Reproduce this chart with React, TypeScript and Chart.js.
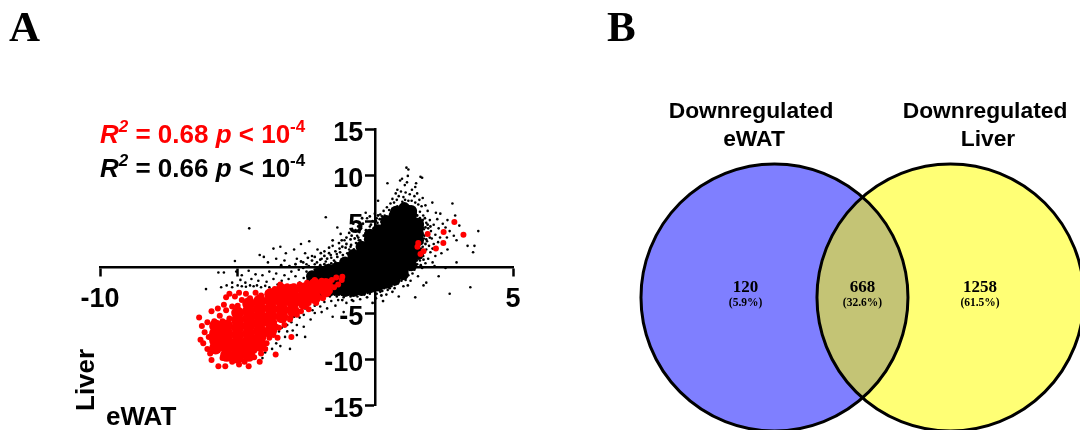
import React, { useEffect, useRef } from "react";
import { Chart, registerables } from "chart.js";

Chart.register(...registerables);

const SANS = '"Liberation Sans", Arial, sans-serif';
const SERIF = '"Liberation Serif", "Times New Roman", serif';

// --- Panel A: estimated log2 fold changes, eWAT (x) against Liver (y)
const xTickLabels = [-10, 5];
const yTickLabels = [15, 10, 5, -5, -10, -15];

const blackDenseCore = [
  [-2.3,-2.2],[-2.3,-1.6],[-2.3,-1.0],[-2.0,-2.5],[-2.0,-1.9],[-2.0,-1.2],[-2.0,-0.5],
  [-1.7,-2.6],[-1.7,-2.0],[-1.7,-1.4],[-1.7,-0.9],[-1.7,-0.3],[-1.4,-2.5],[-1.4,-1.8],[-1.4,-1.2],[-1.4,-0.6],[-1.4,-0.1],
  [-1.1,-2.6],[-1.1,-1.9],[-1.1,-1.2],[-1.1,-0.6],[-1.1,0.0],[-1.1,0.5],[-0.8,-2.6],[-0.8,-1.9],[-0.8,-1.2],[-0.8,-0.5],[-0.8,0.1],[-0.8,0.7],[-0.8,1.3],
  [-0.5,-2.5],[-0.5,-1.8],[-0.5,-1.1],[-0.5,-0.4],[-0.5,0.3],[-0.5,0.9],[-0.5,1.5],[-0.5,2.2],
  [-0.2,-2.2],[-0.2,-1.6],[-0.2,-1.0],[-0.2,-0.3],[-0.2,0.4],[-0.2,1.1],[-0.2,1.8],[-0.2,2.4],[-0.2,3.0],[-0.2,3.5],
  [0.1,-2.0],[0.1,-1.5],[0.1,-0.8],[0.1,-0.1],[0.1,0.6],[0.1,1.3],[0.1,2.0],[0.1,2.7],[0.1,3.4],[0.1,4.0],
  [0.4,-1.7],[0.4,-1.1],[0.4,-0.4],[0.4,0.3],[0.4,1.0],[0.4,1.7],[0.4,2.4],[0.4,3.1],[0.4,3.8],[0.4,4.5],[0.4,5.0],
  [0.7,-1.4],[0.7,-0.7],[0.7,0.0],[0.7,0.7],[0.7,1.4],[0.7,2.1],[0.7,2.8],[0.7,3.5],[0.7,4.2],[0.7,4.9],[0.7,5.6],[0.75,6.0],
  [1.0,-0.8],[1.0,-0.2],[1.0,0.5],[1.0,1.2],[1.0,1.9],[1.0,2.6],[1.0,3.3],[1.0,4.0],[1.0,4.7],[1.0,5.4],[1.0,6.0],[1.05,6.4],
  [1.3,0.2],[1.3,0.9],[1.3,1.6],[1.3,2.3],[1.3,3.0],[1.3,3.7],[1.3,4.4],[1.3,5.1],[1.3,5.7],[1.3,6.1],
  [1.55,1.4],[1.55,2.9],[1.55,3.6],[1.55,4.3],[1.55,4.7],
];

const blackCoreEdge = [
  [-1.75,0.9],[-1.62,1.3],[-1.5,0.7],[-1.38,1.1],[-1.28,1.6],[-1.18,1.3],[-1.08,2.1],[-0.98,1.4],[-0.88,2.4],[-0.78,1.9],
  [-0.7,2.6],[-0.62,3.2],[-0.55,2.9],[-0.42,3.4],[-0.34,4.0],[-0.25,3.9],[-0.16,4.6],[-0.06,4.2],[0.02,5.0],[0.1,5.6],
  [0.16,5.2],[0.24,5.5],[-0.45,4.7],[-0.58,3.8],[-0.75,3.1],[-0.9,3.0],[-1.05,2.5],[-1.2,2.2],[-1.45,1.7],[-1.68,1.5],
  [-1.85,1.2],[-2.0,0.8],[-2.12,0.5],[-2.3,0.7],[-2.42,0.1],[-2.62,-0.1],[-2.7,0.6],[-2.2,-0.3],[-2.0,0.2],[-1.85,0.3],
  [-1.6,0.4],[-1.35,0.4],[-1.1,0.8],[1.72,4.6],[1.82,4.3],[1.68,3.6],[1.78,3.4],[1.9,3.7],[1.98,3.2],[1.7,2.6],
  [1.82,2.5],[1.66,2.0],[1.58,1.0],[1.5,0.7],[1.46,0.95],[1.72,5.1],[1.8,5.3],[1.62,5.3],[1.52,5.6],[1.45,5.9],
  [1.9,4.6],[2.0,4.4],[1.85,3.0],[2.08,2.0],[1.75,0.8],[1.65,0.2],[1.38,0.0],[1.25,-0.3],[1.15,-0.5],[1.05,-1.0],
  [0.9,-1.0],[0.85,-1.3],[0.72,-1.8],[0.6,-1.9],[0.52,-2.3],[0.38,-2.1],[0.25,-2.6],[0.12,-2.4],[-0.02,-2.7],[-0.12,-2.6],
  [-0.28,-2.8],[-0.38,-2.6],[-0.5,-3.0],[-0.62,-2.9],[-0.75,-3.0],[-0.88,-3.0],[-1.0,-3.0],[-1.22,-3.0],[-1.32,-3.0],[-1.48,-3.0],
  [-1.62,-3.0],[-1.78,-3.1],[-2.0,-3.1],[-0.3,-3.3],[0.02,-3.4],[0.22,-3.1],[0.62,-2.7],[1.18,-2.0],[-0.1,-3.9],[0.28,-3.7],
  [-0.85,-3.6],[-1.2,-3.6],[-1.05,3.2],[-0.95,3.7],[-0.72,4.0],[-0.62,4.4],[-0.48,5.3],[-0.2,5.5],[-1.32,2.6],[-1.55,2.9],
  [-1.22,2.9],[-1.68,2.1],[-1.98,1.5],[-2.2,1.1],[-2.45,1.0],[-2.62,0.5],[-2.9,0.3],[-3.12,0.1],[-3.42,0.2],[-0.86,3.4],
];

const blackUpperFan = [
  [1.13,10.8],[1.2,10.6],[0.44,9.1],[1.64,9.8],[1.7,9.7],[0.97,9.6],[0.9,9.4],[1.18,9.9],[1.48,9.1],[1.45,8.7],
  [0.8,8.4],[1.07,8.9],[1.15,9.2],[0.62,7.4],[0.74,8.0],[0.85,7.7],[0.93,8.2],[1.02,7.6],[1.1,8.1],[1.25,7.9],
  [1.33,8.4],[1.42,7.7],[1.52,8.0],[1.6,7.3],[1.72,7.5],[0.55,6.9],[0.68,7.0],[0.78,7.3],[0.98,7.1],[1.08,7.3],
  [1.2,7.2],[1.32,7.2],[1.45,7.0],[1.56,6.8],[1.68,6.6],[1.82,6.7],[1.9,6.1],[0.42,6.5],[0.3,6.1],[0.5,6.2],
  [0.18,5.7],[0.05,5.3],[0.34,5.6],[-0.1,5.0],[-0.2,4.4],[-0.35,3.6],[0.1,7.2],[2.07,7.0],[2.2,5.9],[-0.6,2.9],
  [0.62,6.3],[0.22,4.9],[0.8,6.6],[1.0,6.8],[1.24,6.6],[1.4,6.4],[1.62,6.0],[1.74,5.6],[0.0,4.6],[-0.28,3.1],
  [-0.42,2.5],[-0.5,1.8],[-0.65,1.4],[-0.72,0.8],[-0.1,3.6],[0.08,4.8],[-0.02,5.8],[-0.3,5.3],[-0.52,4.2],[-0.8,4.7],
  [-0.66,3.4],[-0.9,2.2],[-1.02,1.5],[-1.12,2.9],[-1.38,4.3],[-1.26,3.6],[-0.35,5.9],[-1.8,5.4],
];

const blackRightFringe = [
  [2.8,6.9],[3.74,3.9],[3.35,2.3],[3.6,2.3],[3.55,1.6],[2.36,5.8],[2.9,5.6],[3.05,4.5],[2.62,5.1],[2.45,4.7],
  [2.25,5.2],[2.12,4.6],[1.98,5.1],[1.85,4.8],[1.76,4.1],[1.92,4.2],[2.02,3.9],[2.3,4.2],[2.55,4.3],[2.7,3.9],
  [2.85,3.4],[2.95,2.9],[2.6,3.2],[2.35,3.2],[2.18,3.5],[2.05,3.1],[1.88,2.8],[1.76,3.1],[1.95,2.3],[2.12,2.5],
  [2.28,2.7],[2.62,1.9],[2.4,1.5],[2.18,1.2],[2.0,1.6],[1.85,1.9],[1.72,2.2],[1.92,0.9],[1.74,1.2],[1.62,0.7],
  [1.82,0.4],[2.08,0.5],[1.7,-0.1],[1.52,0.3],[1.42,-0.3],[1.35,-0.7],[1.55,-1.0],[1.2,-0.9],[1.28,-1.5],[1.1,-1.4],
  [0.95,-1.5],[1.02,-2.1],[0.82,-1.8],[0.7,-2.3],[0.58,-2.1],[0.45,-2.5],[0.32,-2.3],[0.4,-3.0],[0.18,-2.7],[0.05,-2.9],
  [1.75,-2.0],[1.85,-1.7],[2.3,-1.0],[2.7,-2.9],[3.45,-2.2],[1.45,-3.3],[0.85,-3.2],[2.55,-0.1],[2.15,0.1],[2.95,0.5],
];

const blackLeftBand = [
  [-6.15,-2.4],[-5.7,-0.6],[-5.5,-0.6],[-5.1,0.65],[-4.58,4.2],[-3.7,2.0],[-3.45,2.2],[-4.2,1.3],[-2.4,2.8],[-2.7,2.5],
  [-2.95,1.9],[-2.55,1.5],[-3.25,1.5],[-3.6,0.9],[-3.9,0.5],[-4.05,1.1],[-3.3,0.7],[-2.85,0.9],[-2.3,1.2],[-2.1,1.9],
  [-1.85,1.7],[-1.55,2.3],[-1.3,2.0],[-1.6,1.0],[-1.8,0.6],[-1.95,0.9],[-2.2,0.3],[-2.5,0.3],[-1.45,0.5],[-1.15,0.9],
  [-1.25,0.2],[-1.5,-0.1],[-1.72,-0.3],[-1.95,-0.4],[-2.25,-0.7],[-2.5,-0.5],[-2.78,-0.3],[-3.05,-0.5],[-3.3,-0.9],[-3.6,-0.7],
  [-3.85,-0.5],[-4.1,-0.9],[-4.35,-0.8],[-4.6,-0.4],[-4.85,-0.9],[-5.05,-0.5],[-3.15,-1.3],[-3.4,-1.5],[-3.7,-1.3],[-3.95,-1.6],
  [-4.25,-1.5],[-4.5,-1.3],[-4.72,-1.7],[-4.9,-1.4],[-5.2,-1.7],[-5.4,-2.0],[-5.6,-2.2],[-5.2,-2.2],[-5.0,-2.0],[-4.85,-2.1],
  [-4.7,-2.15],[-4.55,-2.0],[-4.42,-2.1],[-4.3,-2.0],[-4.15,-2.2],[-4.0,-2.05],[-3.85,-2.2],[-2.6,-1.2],[-2.4,-1.5],[-2.15,-1.3],
  [-2.0,-1.1],[-1.8,-1.2],[-1.6,-0.9],[-1.35,-0.6],[-1.15,-0.2],[-0.95,0.5],[-0.82,1.1],[-1.0,-0.3],[-2.05,-0.1],[-1.7,0.2],
  [-2.35,-2.2],[-2.75,-1.7],[-2.9,-1.0],[-3.55,-1.9],[-0.95,1.9],[-1.4,1.4],[-2.05,-2.0],[-1.9,-0.9],[-0.7,-0.1],[-0.98,-0.7],
];

const blackLowerFringe = [
  [-1.9,-3.3],[-1.65,-3.2],[-1.4,-3.2],[-1.15,-3.3],[-0.9,-3.2],[-0.65,-3.2],[-0.4,-3.0],[-0.2,-2.9],[-0.55,-3.5],[-0.8,-3.7],
  [-1.05,-3.9],[-1.35,-3.6],[-1.6,-3.7],[-1.85,-3.8],[-2.15,-3.7],[-2.2,-4.2],[-2.45,-4.1],[-2.0,-4.3],[-2.28,-4.7],[-2.55,-4.5],
  [-2.7,-4.8],[-1.75,-4.5],[-1.45,-4.2],[-1.55,-5.4],[-1.15,-4.9],[-2.75,-5.5],[-2.95,-5.4],[-2.6,-5.2],[-3.05,-6.0],[-2.85,-6.3],
  [-3.0,-6.9],[-3.2,-6.3],[-2.85,-7.4],[-2.55,-7.6],[-3.2,-7.0],[-3.4,-6.6],[-3.5,-7.0],[-3.6,-8.3],[-3.75,-8.9],[-3.45,-8.6],
  [-3.1,-8.9],[-2.6,-6.5],[-3.95,-8.8],[-4.0,-9.3],[-4.1,-9.9],[-2.35,-5.7],[-2.2,-5.0],[-3.3,-5.8],[-3.28,-7.6],[-1.95,-4.9],
];

const redDenseCore = [
  [-5.8,-8.8],[-5.8,-8],[-5.8,-7.2],[-5.8,-6.4],
  [-5.4,-9.6],[-5.4,-8.8],[-5.4,-8],[-5.4,-7.2],[-5.4,-6.4],
  [-5,-9.8],[-5,-9],[-5,-8.2],[-5,-7.4],[-5,-6.6],[-5,-5.8],[-5,-5],
  [-4.6,-9.6],[-4.6,-8.8],[-4.6,-8],[-4.6,-7.2],[-4.6,-6.4],[-4.6,-5.6],[-4.6,-4.8],[-4.6,-4],
  [-4.2,-8.5],[-4.2,-7.7],[-4.2,-6.9],[-4.2,-6.1],[-4.2,-5.3],[-4.2,-4.5],[-4.2,-3.7],
  [-3.8,-6.9],[-3.8,-6.1],[-3.8,-5.3],[-3.8,-4.5],[-3.8,-3.7],[-3.8,-3],
  [-3.4,-5.4],[-3.4,-4.6],[-3.4,-3.8],[-3.4,-3],[-3.4,-2.5],
  [-3,-4.7],[-3,-3.9],[-3,-3.1],[-3,-2.5],
  [-2.6,-3.9],[-2.6,-3.1],[-2.6,-2.4],
  [-2.2,-3.3],[-2.2,-2.5],[-2.2,-1.9],
  [-1.8,-2.6],[-1.8,-1.9],
];

const redScatter = [
  [-6.4,-5.5],[-6.2,-7.1],[-6.3,-6.4],[-6.35,-7.9],[-6.25,-8.3],[-6.05,-7.6],[-6.1,-6.0],[-5.95,-4.8],[-6.1,-8.9],[-6.0,-9.4],
  [-5.95,-10.1],[-5.7,-10.8],[-5.45,-10.8],[-5.55,-9.9],[-5.2,-10.3],[-4.95,-10.6],[-4.6,-10.8],[-4.75,-10.3],[-4.2,-10.3],[-4.4,-9.8],
  [-5.85,-5.9],[-5.65,-5.3],[-5.55,-5.9],[-5.72,-4.5],[-5.5,-4.1],[-5.42,-4.7],[-5.3,-5.6],[-5.2,-4.3],[-5.3,-2.9],[-5.1,-3.2],
  [-5.42,-3.3],[-5.0,-4.2],[-4.85,-3.6],[-4.7,-2.9],[-4.55,-3.4],[-4.35,-2.8],[-4.15,-3.1],[-4.95,-2.8],[-4.15,-9.4],[-4.0,-8.9],
  [-3.95,-8.3],[-3.85,-7.7],[-3.7,-7.4],[-3.5,-6.6],[-3.55,-7.7],[-3.62,-9.5],[-3.05,-7.6],[-3.3,-6.3],[-3.1,-5.7],[-3.08,-5.5],
  [-2.85,-5.2],[-2.7,-4.8],[-2.42,-3.9],[-2.42,-4.6],[-2.15,-3.9],[-1.9,-3.4],[-1.65,-2.6],[-1.5,-2.2],[-1.35,-1.9],[-1.22,-1.4],
  [-1.2,-1.05],[-1.42,-1.15],[-1.58,-1.4],[-1.95,-1.5],[-2.2,-1.4],[-2.48,-1.7],[-2.75,-1.9],[-2.95,-2.1],[-3.2,-2.1],[-3.45,-1.9],
  [-3.65,-2.4],[-3.9,-2.8],[-1.65,-1.9],[-2.0,-2.3],[-2.4,-2.9],[-2.82,-3.5],[-3.2,-3.4],[-3.6,-3.3],[-5.6,-6.7],[-5.55,-7.7],
  [-5.6,-8.4],[-5.15,-9.4],[-4.85,-9.4],[-4.4,-9.1],[-4.4,-8.4],[-4.8,-8.6],[-5.2,-8.6],[-4.0,-7.3],[-3.6,-6.5],[-4.02,-5.7],
  [1.56,2.6],[1.53,2.2],[1.75,1.7],[1.64,1.4],[1.9,3.6],[2.47,2.6],[2.2,2.0],[2.48,3.8],[2.87,4.9],[3.2,3.5],
];

// --- Panel B: Venn regions
const vennLeftCircle = [{ x: -0.5, y: 0 }];
const vennRightCircle = [{ x: 0.5, y: 0 }];
const vennRegionX = [-0.664, 0, 0.668];
const vennCounts = ["120", "668", "1258"];
const vennPercents = ["(5.9%)", "(32.6%)", "(61.5%)"];
const vennTitleLeft = ["Downregulated", "eWAT"];
const vennTitleRight = ["Downregulated", "Liver"];

const statRed = [
  { t: "R", i: true }, { t: "2", i: true, sup: true }, { t: " = 0.68 " }, { t: "p", i: true }, { t: " < 10" }, { t: "-4", sup: true },
];
const statBlack = [
  { t: "R", i: true }, { t: "2", i: true, sup: true }, { t: " = 0.66 " }, { t: "p", i: true }, { t: " < 10" }, { t: "-4", sup: true },
];

const toPoints = (rows: number[][]) => rows.map(([x, y]) => ({ x, y }));

function drawRuns(ctx: CanvasRenderingContext2D, runs: any[], x0: number, y: number, color: string) {
  let x = x0;
  ctx.fillStyle = color;
  ctx.textBaseline = "alphabetic";
  ctx.textAlign = "left";
  for (const r of runs) {
    ctx.font = `${r.i ? "italic " : ""}bold ${r.sup ? 17 : 26}px ${SANS}`;
    ctx.fillText(r.t, x, r.sup ? y - 11 : y);
    x += ctx.measureText(r.t).width;
  }
}

const yTickText = {
  id: "yTickText",
  beforeDatasetsDraw(chart: any) {
    const ctx = chart.ctx;
    const xs = chart.scales.x;
    const ys = chart.scales.y;
    ctx.save();
    ctx.fillStyle = "#000";
    ctx.textAlign = "right";
    ctx.textBaseline = "alphabetic";
    ctx.font = `bold 27px ${SANS}`;
    for (const tick of ys.ticks) {
      if (yTickLabels.includes(tick.value)) {
        ctx.fillText(String(tick.value), xs.getPixelForValue(0) - 12, ys.getPixelForValue(tick.value) + 11.5);
      }
    }
    ctx.restore();
  },
};

const scatterText = {
  id: "scatterText",
  afterDraw(chart: any) {
    const ctx = chart.ctx;
    ctx.save();
    ctx.fillStyle = "#000";
    ctx.textAlign = "left";
    ctx.textBaseline = "alphabetic";
    ctx.font = `bold 43px ${SERIF}`;
    ctx.fillText("A", 9, 41);
    drawRuns(ctx, statRed, 100, 143, "#ff0000");
    drawRuns(ctx, statBlack, 100, 177, "#000000");
    ctx.fillStyle = "#000";
    ctx.font = `bold 26px ${SANS}`;
    ctx.fillText("eWAT", 106, 425);
    ctx.translate(94, 411);
    ctx.rotate(-Math.PI / 2);
    ctx.fillText("Liver", 0, 0);
    ctx.restore();
  },
};

const vennText = {
  id: "vennText",
  afterDraw(chart: any) {
    const ctx = chart.ctx;
    const xs = chart.scales.x;
    const ys = chart.scales.y;
    ctx.save();
    ctx.fillStyle = "#000";
    ctx.textAlign = "left";
    ctx.textBaseline = "alphabetic";
    ctx.font = `bold 43px ${SERIF}`;
    ctx.fillText("B", 27, 41);
    ctx.textAlign = "center";
    ctx.font = `bold 22.8px ${SANS}`;
    vennTitleLeft.forEach((t, i) => ctx.fillText(t, 171 + (i ? 3 : 0), 118 + i * 28));
    vennTitleRight.forEach((t, i) => ctx.fillText(t, 405 + (i ? 3 : 0), 118 + i * 28));
    ctx.textBaseline = "middle";
    vennRegionX.forEach((v, i) => {
      const px = xs.getPixelForValue(v);
      ctx.font = `bold 17px ${SERIF}`;
      ctx.fillText(vennCounts[i], px, ys.getPixelForValue(0.054));
      ctx.font = `bold 11.5px ${SERIF}`;
      ctx.fillText(vennPercents[i], px, ys.getPixelForValue(-0.032));
    });
    ctx.restore();
  },
};

export default function App() {
  const leftRef = useRef<HTMLCanvasElement>(null);
  const rightRef = useRef<HTMLCanvasElement>(null);

  useEffect(() => {
    document.body.style.margin = "0";
    const left = new Chart(leftRef.current!, {
      type: "scatter",
      data: {
        datasets: [
          { label: "red scatter", data: toPoints(redScatter), backgroundColor: "#ff0000", borderWidth: 0, pointRadius: 3 },
          { label: "red core", data: toPoints(redDenseCore), backgroundColor: "#ff0000", borderWidth: 0, pointRadius: 6.5 },
          { label: "black upper", data: toPoints(blackUpperFan), backgroundColor: "#000", borderWidth: 0, pointRadius: 1.3 },
          { label: "black right", data: toPoints(blackRightFringe), backgroundColor: "#000", borderWidth: 0, pointRadius: 1.3 },
          { label: "black left", data: toPoints(blackLeftBand), backgroundColor: "#000", borderWidth: 0, pointRadius: 1.3 },
          { label: "black lower", data: toPoints(blackLowerFringe), backgroundColor: "#000", borderWidth: 0, pointRadius: 1.3 },
          { label: "black edge", data: toPoints(blackCoreEdge), backgroundColor: "#000", borderWidth: 0, pointRadius: 1.4 },
          { label: "black core", data: toPoints(blackDenseCore), backgroundColor: "#000", borderWidth: 0, pointRadius: 6 },
        ],
      },
      options: {
        responsive: false,
        animation: false,
        events: [],
        layout: { autoPadding: false, padding: { left: 100, right: 67, top: 129, bottom: 25 } },
        plugins: { legend: { display: false }, tooltip: { enabled: false } },
        scales: {
          x: {
            type: "linear",
            min: -10,
            max: 5,
            position: { y: 0 } as any,
            border: { display: true, color: "#000", width: 2.5 },
            grid: { drawOnChartArea: false, drawTicks: true, tickLength: 8, tickColor: "#000", tickWidth: 2.5 },
            ticks: {
              stepSize: 5,
              color: "#000",
              font: { family: SANS, size: 27, weight: "bold" as const },
              padding: 8,
              maxRotation: 0,
              autoSkip: false,
              callback: (v: any) => (xTickLabels.includes(Number(v)) ? String(v) : ""),
            },
          },
          y: {
            type: "linear",
            min: -15,
            max: 15,
            position: { x: 0 } as any,
            border: { display: true, color: "#000", width: 2.5 },
            grid: { drawOnChartArea: false, drawTicks: true, tickLength: 9, tickColor: "#000", tickWidth: 2.5 },
            ticks: { stepSize: 5, display: false, autoSkip: false },
          },
        },
      },
      plugins: [yTickText, scatterText],
    });

    const right = new Chart(rightRef.current!, {
      type: "scatter",
      data: {
        datasets: [
          {
            label: "eWAT outline",
            data: vennLeftCircle,
            clip: false,
            backgroundColor: "rgba(0,0,0,0)",
            borderColor: "#000",
            borderWidth: 3,
            pointRadius: 133.5,
          },
          {
            label: "Liver outline",
            data: vennRightCircle,
            clip: false,
            backgroundColor: "rgba(0,0,0,0)",
            borderColor: "#000",
            borderWidth: 3,
            pointRadius: 133.5,
          },
          { label: "Liver", data: vennRightCircle, clip: false, backgroundColor: "rgba(255,255,0,0.54)", borderWidth: 0, pointRadius: 133.5 },
          { label: "eWAT", data: vennLeftCircle, clip: false, backgroundColor: "rgba(0,0,255,0.5)", borderWidth: 0, pointRadius: 133.5 },
        ],
      },
      options: {
        responsive: false,
        animation: false,
        events: [],
        layout: { autoPadding: false, padding: 0 },
        plugins: { legend: { display: false }, tooltip: { enabled: false } },
        scales: {
          x: { type: "linear", display: false, min: -1.605, max: 1.236 },
          y: { type: "linear", display: false, min: -0.753, max: 1.69 },
        },
      },
      plugins: [vennText],
    });

    return () => {
      left.destroy();
      right.destroy();
    };
  }, []);

  return (
    <div style={{ position: "relative", width: 1080, height: 430, overflow: "hidden", background: "#fff" }}>
      <canvas ref={leftRef} width={580} height={430} style={{ position: "absolute", left: 0, top: 0, display: "block" }} />
      <canvas ref={rightRef} width={500} height={430} style={{ position: "absolute", left: 580, top: 0, display: "block" }} />
    </div>
  );
}
